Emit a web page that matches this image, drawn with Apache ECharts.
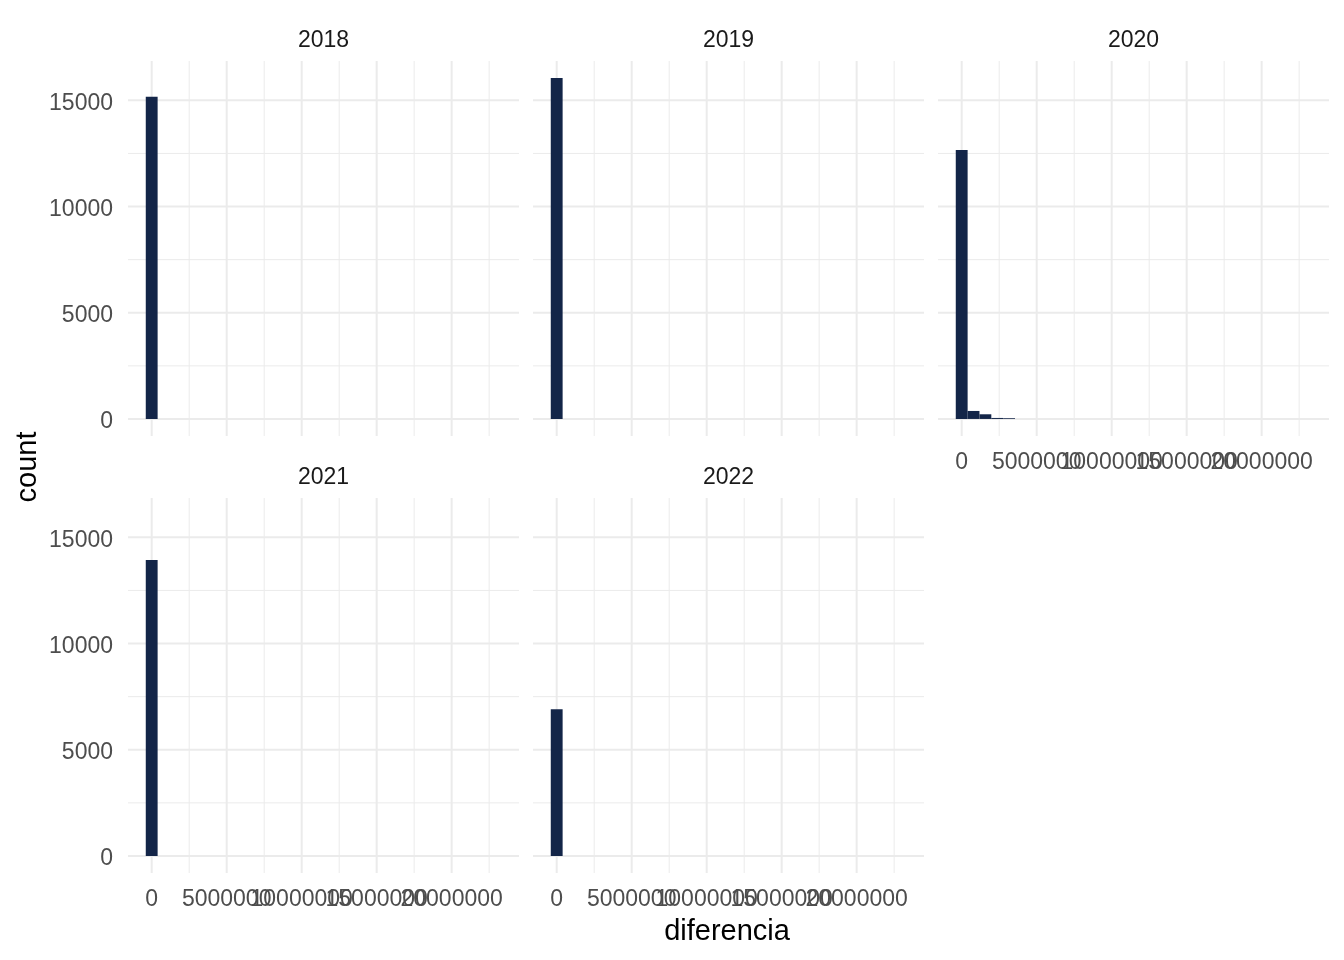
<!DOCTYPE html>
<html>
<head>
<meta charset="utf-8">
<script src="https://cdn.jsdelivr.net/npm/echarts@6/dist/echarts.min.js"></script>
<style>
html,body{margin:0;padding:0;background:#fff;}
#chart{width:1344px;height:960px;}
</style>
</head>
<body>
<div id="chart"></div>
<script>
// ---- data ----
const years = ['2018', '2019', '2020', '2021', '2022'];
// histogram bin counts, bin 0 centred at 0, following bins to the right
const count2018 = [15170];
const count2019 = [16050];
const count2020 = [12660, 376, 220, 47, 35];
const count2021 = [13930];
const count2022 = [6910];
const binWidth = 790000;
const xTickLabels = [0, 5000000, 10000000, 15000000, 20000000];
const xMinorBreaks = [2500000, 7500000, 12500000, 17500000, 22500000];
const yTickLabels = [0, 5000, 10000, 15000];
const yMinorBreaks = [2500, 7500, 12500];
const xTitle = 'diferencia';
const yTitle = 'count';

// ---- layout ----
const allCounts = [count2018, count2019, count2020, count2021, count2022];
const X_MIN = -2 * binWidth, X_MAX = 31 * binWidth;
const Y_MAX_DATA = 16050;
const Y_MIN = -0.05 * Y_MAX_DATA, Y_MAX = 1.05 * Y_MAX_DATA;

const panelLefts = [128, 533, 938, 128, 533];
const panelTops = [61, 61, 61, 498, 498];
const PW = 391, PH = 375;
const showX = [false, false, true, true, true];
const showY = [true, false, false, true, false];

const FONT = '"Liberation Sans", Arial, sans-serif';
const BAR = '#132548';
const GRID = '#EBEBEB';
const AXIS_TXT = '#4D4D4D';
const FS = 23;

const grids = [], xAxes = [], yAxes = [], series = [], graphics = [];

function textStyle(t, align) {
  return {text: t, fill: AXIS_TXT, font: FS + 'px ' + FONT, align: align, verticalAlign: 'middle'};
}

years.forEach((yr, i) => {
  grids.push({left: panelLefts[i], top: panelTops[i], width: PW, height: PH, containLabel: false});
  xAxes.push({
    type: 'value', gridIndex: i, min: X_MIN, max: X_MAX,
    axisLine: {show: false}, axisTick: {show: false}, splitLine: {show: false},
    axisLabel: {show: false}
  });
  yAxes.push({
    type: 'value', gridIndex: i, min: Y_MIN, max: Y_MAX,
    axisLine: {show: false}, axisTick: {show: false}, splitLine: {show: false},
    axisLabel: {show: false}
  });

  // gridlines drawn through the axis scales
  const gl = [];
  xTickLabels.forEach(v => gl.push([0, v, 1]));
  xMinorBreaks.forEach(v => gl.push([0, v, 0]));
  yTickLabels.forEach(v => gl.push([1, v, 1]));
  yMinorBreaks.forEach(v => gl.push([1, v, 0]));
  series.push({
    type: 'custom', xAxisIndex: i, yAxisIndex: i, z: 1, silent: true,
    data: gl, encode: {x: 1, y: 1},
    renderItem: (params, api) => {
      const cs = params.coordSys;
      const orient = api.value(0), v = api.value(1), major = api.value(2);
      let shape;
      if (orient === 0) {
        const px = api.coord([v, 0])[0];
        if (px < cs.x || px > cs.x + cs.width) return null;
        shape = {x1: px, y1: cs.y, x2: px, y2: cs.y + cs.height};
      } else {
        const py = api.coord([0, v])[1];
        if (py < cs.y || py > cs.y + cs.height) return null;
        shape = {x1: cs.x, y1: py, x2: cs.x + cs.width, y2: py};
      }
      return {type: 'line', shape: shape, style: {stroke: GRID, lineWidth: major ? 2 : 1}};
    }
  });

  // x tick labels (placed by the x scale, overlapping as in the original)
  if (showX[i]) {
    series.push({
      type: 'custom', xAxisIndex: i, yAxisIndex: i, z: 3, silent: true, clip: false,
      data: xTickLabels.map(v => [v, 0]), encode: {x: 0, y: 1},
      renderItem: (params, api) => {
        const cs = params.coordSys;
        const px = api.coord([api.value(0), 0])[0];
        return {type: 'text', x: px, y: cs.y + cs.height + 27, style: textStyle(String(api.value(0)), 'center')};
      }
    });
  }
  // y tick labels (placed by the y scale)
  if (showY[i]) {
    series.push({
      type: 'custom', xAxisIndex: i, yAxisIndex: i, z: 3, silent: true, clip: false,
      data: yTickLabels.map(v => [0, v]), encode: {x: 0, y: 1},
      renderItem: (params, api) => {
        const cs = params.coordSys;
        const py = api.coord([0, api.value(1)])[1];
        return {type: 'text', x: cs.x - 15, y: py + 3, style: textStyle(String(api.value(1)), 'right')};
      }
    });
  }

  // histogram bars
  const bars = allCounts[i].map((c, k) => [(k - 0.5) * binWidth, (k + 0.5) * binWidth, c]);
  series.push({
    type: 'custom', xAxisIndex: i, yAxisIndex: i, z: 2, silent: true,
    data: bars, encode: {x: [0, 1], y: 2},
    renderItem: (params, api) => {
      const p0 = api.coord([api.value(0), api.value(2)]);
      const p1 = api.coord([api.value(1), 0]);
      return {type: 'rect', shape: {x: p0[0], y: p0[1], width: p1[0] - p0[0], height: p1[1] - p0[1]},
        style: {fill: BAR}};
    }
  });

  graphics.push({
    type: 'text', x: panelLefts[i] + PW / 2, y: panelTops[i] - 20,
    style: {text: yr, fill: '#1A1A1A', font: FS + 'px ' + FONT, align: 'center', verticalAlign: 'middle'}
  });
});

graphics.push({
  type: 'text', x: 727, y: 932,
  style: {text: xTitle, fill: '#000', font: '29px ' + FONT, align: 'center', verticalAlign: 'middle'}
});
graphics.push({
  type: 'text', x: 28, y: 467, rotation: Math.PI / 2,
  style: {text: yTitle, fill: '#000', font: '29px ' + FONT, align: 'center', verticalAlign: 'middle'}
});

const chart = echarts.init(document.getElementById('chart'), null, {renderer: 'canvas'});
chart.setOption({
  backgroundColor: '#fff',
  animation: false,
  grid: grids, xAxis: xAxes, yAxis: yAxes, series: series, graphic: graphics
});
</script>
</body>
</html>
